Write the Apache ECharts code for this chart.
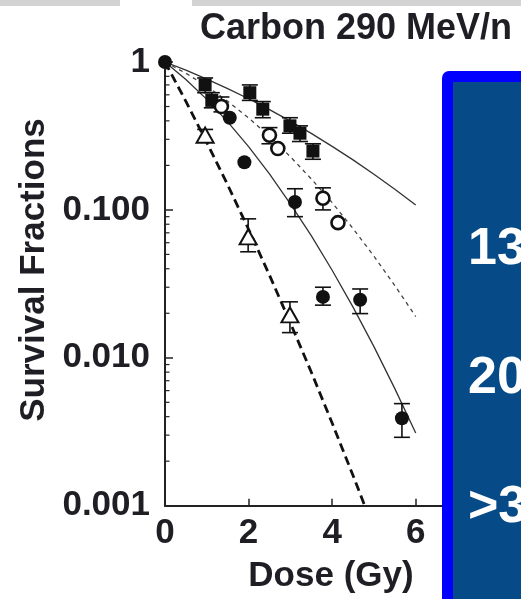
<!DOCTYPE html>
<html><head><meta charset="utf-8">
<script src="https://cdn.jsdelivr.net/npm/echarts@6/dist/echarts.min.js"></script>
<style>html,body{margin:0;padding:0;background:#fff}#c{width:521px;height:599px}</style>
</head><body><div id="c"></div>
<script>
// ---- axis ticks / labels ----
const xTickValues = [0, 2, 4, 6];
const yTickValues = [0.001, 0.01, 0.1, 1];
const yTickLabels = ['0.001', '0.010', '0.100', '1'];
const yMinorTicks = [0.002,0.003,0.004,0.005,0.006,0.007,0.008,0.009,
                     0.02,0.03,0.04,0.05,0.06,0.07,0.08,0.09,
                     0.2,0.3,0.4,0.5,0.6,0.7,0.8,0.9];

// ---- measured points [dose, survival] ----
const squarePts = [[0.96,0.70],[1.12,0.55],[2.03,0.62],[2.34,0.48],[2.99,0.37],[3.23,0.33],[3.54,0.25]];
const squareErr = [[0.96,0.62,0.78],[1.12,0.49,0.62],[2.03,0.55,0.70],[2.34,0.42,0.54],[2.99,0.33,0.42],[3.23,0.29,0.37],[3.54,0.22,0.28]];
const openCirclePts = [[1.35,0.50],[2.5,0.32],[2.7,0.26],[3.78,0.12],[4.14,0.082]];
const openCircleErr = [[1.35,0.46,0.58],[2.5,0.28,0.36],[3.78,0.100,0.141]];
const filledCirclePts = [[0,1],[1.55,0.42],[1.9,0.21],[3.11,0.113],[3.78,0.0258],[4.67,0.0247],[5.67,0.0039]];
const filledCircleErr = [[3.11,0.090,0.139],[3.78,0.0227,0.030],[4.67,0.0199,0.0292],[5.67,0.0029,0.0049]];
const trianglePts = [[0.96,0.32],[1.99,0.0657],[2.99,0.0195]];
const triangleErr = [[0.96,0.29,0.35],[1.99,0.0521,0.0870],[2.99,0.0148,0.0239]];

// ---- fitted curves ----
const fitDose = [0,0.5,1,1.5,2,2.5,3,3.5,4,4.5,5,5.5,6];
const fitSquares = [1,0.880,0.767,0.661,0.564,0.476,0.398,0.329,0.269,0.218,0.174,0.138,0.108];
const fitOpenCircles = [1,0.839,0.685,0.543,0.419,0.314,0.229,0.162,0.112,0.0748,0.0487,0.0308,0.0190];
const fitFilledCircles = [1,0.762,0.559,0.394,0.268,0.175,0.110,0.0670,0.0391,0.0220,0.0119,0.00619,0.0031];
const fitTriDose = [0,0.5,1,1.5,2,2.5,3,3.5,4,4.5,4.78];
const fitTriangles = [1,0.542,0.286,0.1475,0.074,0.0362,0.0172,0.00801,0.00362,0.0016,0.001];

const boxTexts = ['13', '20', '>3'];

const FONT = '"Liberation Sans", Arial, Helvetica, sans-serif';
const INK = '#1e1e24';

function pair(xs, ys){ return xs.map((x,i)=>[x, ys[i]]); }

function errRender(params, api){
  const x = api.value(0), lo = api.value(1), hi = api.value(2);
  const p1 = api.coord([x, hi]), p2 = api.coord([x, lo]);
  const w = 8, st = {stroke:'#111', lineWidth:1.6};
  return {type:'group', children:[
    {type:'line', shape:{x1:p1[0],y1:p1[1],x2:p2[0],y2:p2[1]}, style:st},
    {type:'line', shape:{x1:p1[0]-w,y1:p1[1],x2:p1[0]+w,y2:p1[1]}, style:st},
    {type:'line', shape:{x1:p2[0]-w,y1:p2[1],x2:p2[0]+w,y2:p2[1]}, style:st}
  ]};
}
function errSeries(data){
  return {type:'custom', renderItem:errRender, data:data, encode:{x:0,y:[1,2]}, z:3, clip:false, silent:true};
}
function minorTickRender(params, api){
  const p = api.coord([0, api.value(0)]);
  return {type:'line', shape:{x1:p[0], y1:p[1], x2:p[0]+4.5, y2:p[1]}, style:{stroke:'#222', lineWidth:1.2}};
}
function fitSeries(xs, ys, style){
  return {type:'line', data:pair(xs,ys), smooth:false, symbol:'none', z:2, silent:true, lineStyle:style};
}

const chart = echarts.init(document.getElementById('c'), null, {renderer:'canvas'});
chart.setOption({
  animation:false,
  backgroundColor:'#fff',
  grid:{left:165, top:62, width:292.5, height:443.7, containLabel:false},
  xAxis:{type:'value', min:0, max:7,
    axisLine:{show:true, lineStyle:{color:'#222', width:2}},
    axisTick:{show:true, inside:true, length:7, lineStyle:{color:'#222', width:1.5}, customValues:[2,4,6]},
    axisLabel:{customValues:xTickValues, margin:10, fontSize:35, fontWeight:'bold', fontFamily:FONT, color:INK},
    splitLine:{show:false}},
  yAxis:{type:'log', logBase:10, min:0.001, max:1,
      axisLine:{show:true, lineStyle:{color:'#222', width:2}},
      axisTick:{show:true, inside:true, length:8, lineStyle:{color:'#222', width:1.5}, customValues:yTickValues},
      axisLabel:{customValues:yTickValues, margin:15, fontSize:35, fontWeight:'bold', fontFamily:FONT, color:INK,
        formatter:function(v){ const i = yTickValues.findIndex(t=>Math.abs(t-v)/t<1e-6); return i>=0 ? yTickLabels[i] : ''; }},
      splitLine:{show:false}},
  series:[
    {type:'custom', renderItem:minorTickRender, data:yMinorTicks.map(v=>[v]), encode:{y:0}, z:1, clip:false, silent:true},
    fitSeries(fitDose, fitSquares, {color:'#333', width:1.3, type:'solid'}),
    fitSeries(fitDose, fitOpenCircles, {color:'#444', width:1.3, type:[4,4]}),
    fitSeries(fitDose, fitFilledCircles, {color:'#333', width:1.3, type:'solid'}),
    fitSeries(fitTriDose, fitTriangles, {color:'#111', width:2.8, type:[9,5]}),
    errSeries(squareErr), errSeries(openCircleErr), errSeries(filledCircleErr), errSeries(triangleErr),
    {type:'scatter', data:squarePts, symbol:'rect', symbolSize:13, z:5, itemStyle:{color:'#111', opacity:1}},
    {type:'scatter', data:openCirclePts, symbol:'circle', symbolSize:13, z:5, itemStyle:{color:'#fff', borderColor:'#111', borderWidth:2.6, opacity:1}},
    {type:'scatter', data:filledCirclePts, symbol:'circle', symbolSize:14, z:5, itemStyle:{color:'#111', opacity:1}},
    {type:'scatter', data:trianglePts, symbol:'triangle', symbolSize:[17,15], z:5, itemStyle:{color:'#fff', borderColor:'#111', borderWidth:2, opacity:1}}
  ],
  graphic:[
    {type:'rect', z:1, shape:{x:0, y:0, width:120, height:6}, style:{fill:'#d3d3d3'}},
    {type:'rect', z:1, shape:{x:192, y:0, width:329, height:6}, style:{fill:'#d3d3d3'}},
    {type:'text', z:10, x:356, y:29, style:{text:'Carbon 290 MeV/n', font:'bold 36px '+FONT, fill:INK, align:'center', verticalAlign:'middle'}},
    {type:'text', z:10, x:34, y:270, rotation:Math.PI/2, style:{text:'Survival Fractions', font:'bold 35px '+FONT, fill:INK, align:'center', verticalAlign:'middle'}},
    {type:'text', z:10, x:331, y:576, style:{text:'Dose (Gy)', font:'bold 35px '+FONT, fill:INK, align:'center', verticalAlign:'middle'}},
    {type:'rect', z:50, shape:{x:442, y:71, width:120, height:560, r:[7,0,0,0]}, style:{fill:'#0000ff'}},
    {type:'rect', z:51, shape:{x:453, y:82, width:120, height:560}, style:{fill:'#064a87'}},
    {type:'text', z:52, x:468, y:250, style:{text:boxTexts[0], font:'bold 52px '+FONT, fill:'#fff', align:'left', verticalAlign:'middle'}},
    {type:'text', z:52, x:468, y:379, style:{text:boxTexts[1], font:'bold 52px '+FONT, fill:'#fff', align:'left', verticalAlign:'middle'}},
    {type:'text', z:52, x:468, y:508, style:{text:boxTexts[2], font:'bold 52px '+FONT, fill:'#fff', align:'left', verticalAlign:'middle'}}
  ]
});
</script></body></html>
